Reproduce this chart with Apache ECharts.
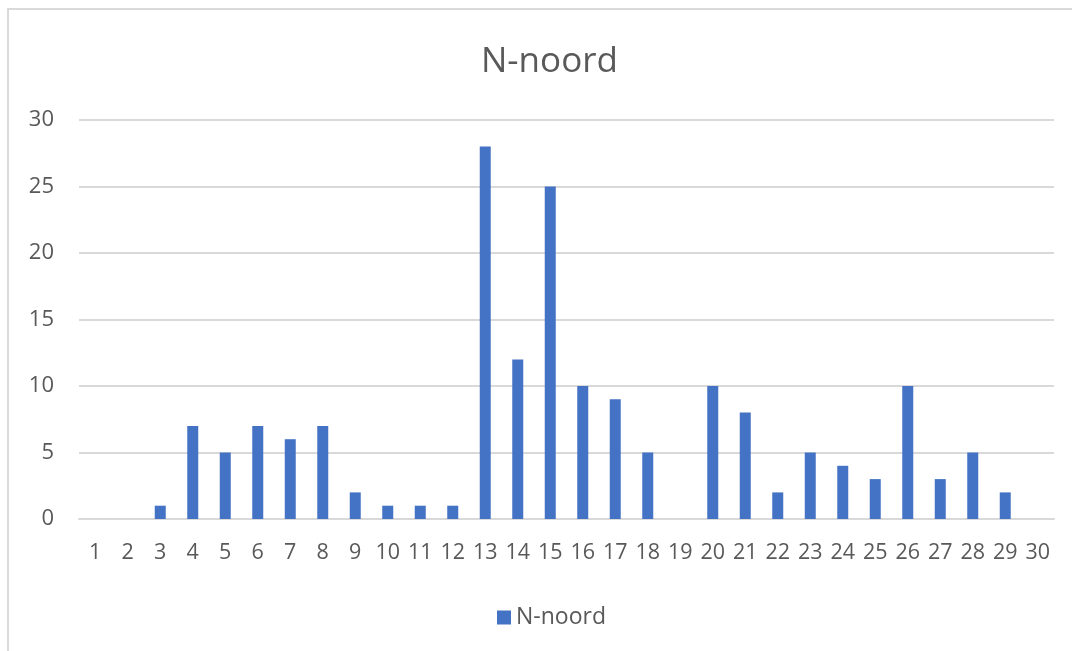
<!DOCTYPE html>
<html><head><meta charset="utf-8">
<script src="https://cdn.jsdelivr.net/npm/echarts@6/dist/echarts.min.js"></script>
<style>
html,body{margin:0;padding:0;background:#fff;}
#frame{position:absolute;left:7px;top:8px;width:1200px;height:700px;border-left:2px solid #d9d9d9;border-top:2px solid #d9d9d9;}
#c{position:absolute;left:0;top:0;width:1072px;height:651px;}
</style></head>
<body>
<div id="frame"></div>
<div id="c"></div>
<script>
const categories = ['1','2','3','4','5','6','7','8','9','10','11','12','13','14','15','16','17','18','19','20','21','22','23','24','25','26','27','28','29','30'];
const values = [0,0,1,7,5,7,6,7,2,1,1,1,28,12,25,10,9,5,0,10,8,2,5,4,3,10,3,5,2,0];
const seriesName = 'N-noord';
const yTicks = {min:0,max:30,interval:5};

const chart = echarts.init(document.getElementById('c'));
const font = '"Open Sans", sans-serif';
chart.setOption({
  animation:false,
  title:{text:'N-noord',left:476,top:40,textStyle:{fontFamily:font,fontSize:35,fontWeight:'normal',color:'#595959'}},
  grid:{left:79,right:18,top:120,bottom:132},
  legend:{top:601,left:492,itemWidth:14,itemHeight:14,itemGap:8,icon:'rect',textStyle:{fontFamily:font,fontSize:23,color:'#595959'},data:[seriesName]},
  xAxis:{type:'category',data:categories,
    axisLine:{lineStyle:{color:'#d9d9d9',width:2}},axisTick:{show:false},
    axisLabel:{interval:0,fontFamily:font,fontSize:21.5,color:'#595959',margin:23}},
  yAxis:{type:'value',min:yTicks.min,max:yTicks.max,interval:yTicks.interval,
    axisLine:{show:false},axisTick:{show:false},
    splitLine:{lineStyle:{color:'#d9d9d9',width:2}},
    axisLabel:{fontFamily:font,fontSize:22,color:'#595959',margin:25}},
  series:[{name:seriesName,type:'bar',data:values,barWidth:11,itemStyle:{color:'#4472c4'}}]
});
</script>
</body></html>
